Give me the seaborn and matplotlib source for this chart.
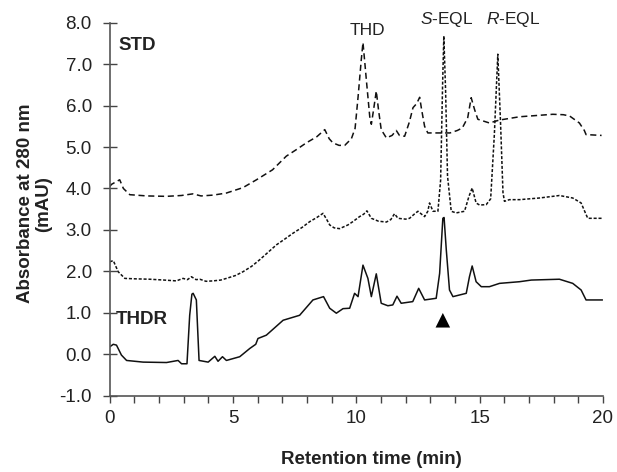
import numpy as np
import pandas as pd
import seaborn as sns
from matplotlib import pyplot as plt
from matplotlib.ticker import MultipleLocator

# ------------------------------
# クロマトグラムのデータ
# ------------------------------
std_t = [0.0, 0.07, 0.4, 0.55, 0.81, 1.5, 2.3, 2.9, 3.37, 3.7, 4.2, 4.73, 5.4, 5.95,
         6.6, 7.16, 7.6, 7.97, 8.4, 8.72, 8.9, 9.05, 9.3, 9.53, 9.8, 9.95, 10.07, 10.2,
         10.27, 10.35, 10.41, 10.55, 10.61, 10.7, 10.81, 10.9, 11.01, 11.22, 11.45,
         11.62, 11.75, 11.96, 12.15, 12.3, 12.45, 12.57, 12.65, 12.77, 12.9, 13.38,
         13.8, 14.1, 14.3, 14.52, 14.66, 14.8, 14.93, 15.4, 15.8, 16.62, 17.3, 17.97,
         18.4, 18.65, 19.05, 19.25, 19.32, 19.95]
std_v = [4.05, 4.10, 4.21, 4.00, 3.85, 3.82, 3.81, 3.83, 3.87, 3.82, 3.84, 3.89, 4.02,
         4.21, 4.45, 4.78, 4.95, 5.10, 5.25, 5.42, 5.20, 5.10, 5.04, 5.04, 5.20, 5.45,
         6.20, 7.10, 7.52, 7.00, 6.60, 5.70, 5.55, 5.90, 6.35, 5.90, 5.42, 5.22, 5.28,
         5.40, 5.28, 5.26, 5.60, 5.95, 6.05, 6.20, 5.90, 5.50, 5.34, 5.34, 5.34, 5.40,
         5.46, 5.71, 6.19, 5.90, 5.67, 5.58, 5.65, 5.73, 5.76, 5.79, 5.78, 5.75, 5.58,
         5.40, 5.30, 5.28]

mix_t = [0.0, 0.14, 0.34, 0.61, 1.0, 1.62, 2.2, 2.7, 2.97, 3.15, 3.31, 3.5, 3.65, 3.9,
         4.19, 4.5, 4.73, 5.1, 5.4, 5.75, 6.08, 6.4, 6.76, 7.1, 7.43, 7.8, 8.11, 8.4,
         8.65, 8.8, 8.92, 9.1, 9.32, 9.66, 9.86, 10.13, 10.3, 10.43, 10.61, 10.9, 11.22,
         11.4, 11.55, 11.69, 12.0, 12.16, 12.35, 12.5, 12.77, 12.9, 12.97, 13.11, 13.31,
         13.42, 13.5, 13.55, 13.62, 13.7, 13.85, 14.05, 14.39, 14.57, 14.7, 14.86, 15.0,
         15.27, 15.45, 15.6, 15.74, 15.85, 15.95, 16.01, 16.21, 16.62, 17.43, 18.24,
         18.78, 19.12, 19.3, 19.39, 19.99]
mix_v = [2.23, 2.26, 1.99, 1.83, 1.82, 1.81, 1.79, 1.77, 1.83, 1.80, 1.87, 1.80, 1.81,
         1.76, 1.77, 1.79, 1.83, 1.90, 1.99, 2.12, 2.28, 2.45, 2.64, 2.78, 2.92, 3.06,
         3.20, 3.30, 3.40, 3.25, 3.12, 3.05, 3.03, 3.12, 3.20, 3.32, 3.38, 3.46, 3.28,
         3.21, 3.19, 3.25, 3.39, 3.28, 3.26, 3.28, 3.38, 3.45, 3.32, 3.45, 3.65, 3.45,
         3.45, 4.20, 6.50, 7.68, 6.40, 4.30, 3.45, 3.41, 3.45, 3.81, 4.01, 3.65, 3.60,
         3.61, 3.75, 5.30, 7.24, 5.60, 3.90, 3.69, 3.73, 3.73, 3.77, 3.83, 3.77, 3.65,
         3.40, 3.28, 3.28]

thdr_t = [0.0, 0.14, 0.27, 0.47, 0.68, 1.35, 2.3, 2.77, 2.91, 3.13, 3.24, 3.33, 3.38,
          3.51, 3.62, 3.99, 4.26, 4.39, 4.57, 4.73, 5.27, 5.68, 5.92, 6.01, 6.35, 7.03,
          7.7, 8.24, 8.67, 8.92, 9.19, 9.46, 9.73, 9.93, 10.07, 10.27, 10.47, 10.61,
          10.81, 11.01, 11.28, 11.48, 11.65, 11.82, 12.29, 12.53, 12.77, 13.24, 13.38,
          13.51, 13.56, 13.65, 13.78, 13.92, 14.46, 14.59, 14.7, 14.86, 15.07, 15.4,
          15.81, 16.62, 17.1, 18.24, 18.78, 19.12, 19.32, 19.99]
thdr_v = [0.18, 0.24, 0.22, -0.02, -0.15, -0.19, -0.20, -0.15, -0.23, -0.23, 0.94, 1.45,
          1.47, 1.31, -0.15, -0.19, -0.05, -0.17, -0.06, -0.15, -0.06, 0.14, 0.24, 0.38,
          0.46, 0.82, 0.94, 1.31, 1.39, 1.11, 0.99, 1.10, 1.11, 1.47, 1.39, 2.15, 1.83,
          1.39, 1.94, 1.23, 1.17, 1.19, 1.40, 1.23, 1.27, 1.59, 1.31, 1.35, 1.95, 3.28,
          3.30, 2.52, 1.55, 1.39, 1.47, 1.87, 2.13, 1.75, 1.63, 1.63, 1.71, 1.75, 1.79,
          1.81, 1.71, 1.55, 1.31, 1.31]

# ピーク名と▲の位置
peak_names = ["THD", "$\\it{S}$-EQL", "$\\it{R}$-EQL"]
peak_t = [10.46, 13.68, 16.36]
peak_v = [7.82, 8.07, 8.07]
arrow_t = [13.51]
arrow_v = [0.82]

sns.set_style("ticks")
plt.rcParams["font.family"] = ["Liberation Sans", "DejaVu Sans"]
plt.rcParams["mathtext.fontset"] = "custom"
plt.rcParams["mathtext.it"] = "Liberation Sans:italic"
plt.rcParams["mathtext.rm"] = "Liberation Sans"

fig = plt.figure(figsize=(6.17, 4.72), dpi=100)
ax = fig.add_axes([0.178, 0.1617, 0.799, 0.7902])

std = pd.DataFrame({"t": std_t, "v": std_v})
mix = pd.DataFrame({"t": mix_t, "v": mix_v})
thdr = pd.DataFrame({"t": thdr_t, "v": thdr_v})

sns.lineplot(data=std, x="t", y="v", ax=ax, color="#111111", lw=1.1,
             linestyle=(0, (4, 2.4)), estimator=None)
sns.lineplot(data=mix, x="t", y="v", ax=ax, color="#111111", lw=1.1,
             linestyle=(0, (2, 1.2)), estimator=None)
sns.lineplot(data=thdr, x="t", y="v", ax=ax, color="#111111", lw=1.1,
             estimator=None)
sns.scatterplot(x=arrow_t, y=arrow_v, ax=ax, marker="^", s=110, color="black",
                edgecolor="none")

for name, t, v in zip(peak_names, peak_t, peak_v):
    ax.text(t, v, name, ha="center", va="center", fontsize=12.5, color="#222222")
ax.text(0.34, 7.44, "STD", ha="left", va="center", fontsize=13.5,
        fontweight="bold", color="#222222")
ax.text(0.24, 0.83, "THDR", ha="left", va="center", fontsize=13.5,
        fontweight="bold", color="#222222")

ax.set_xlim(0, 20)
ax.set_ylim(-1, 8)
ax.xaxis.set_major_locator(MultipleLocator(5))
ax.xaxis.set_minor_locator(MultipleLocator(1))
ax.yaxis.set_major_locator(MultipleLocator(1))
ax.yaxis.set_major_formatter(lambda y, pos: f"{y:.1f}")
ax.tick_params(axis="x", which="both", direction="out", length=5, width=1,
               color="#444444", labelsize=13.5, labelcolor="#222222", pad=5)
ax.tick_params(axis="y", direction="inout", length=10, width=1,
               color="#444444", labelsize=13.5, labelcolor="#222222", pad=8)
for s in ["left", "bottom"]:
    ax.spines[s].set_color("#555555")
    ax.spines[s].set_linewidth(1.2)
sns.despine(ax=ax)

ax.set_xlabel("Retention time (min)", fontsize=13.5, fontweight="bold",
              color="#222222")
ax.set_ylabel("Absorbance at 280 nm\n(mAU)", fontsize=13.5, fontweight="bold",
              multialignment="center", linespacing=1.12, color="#222222")
ax.xaxis.set_label_coords(0.53, -0.148)
ax.yaxis.set_label_coords(-0.117, 0.515)

plt.savefig("out.png", dpi=100)
